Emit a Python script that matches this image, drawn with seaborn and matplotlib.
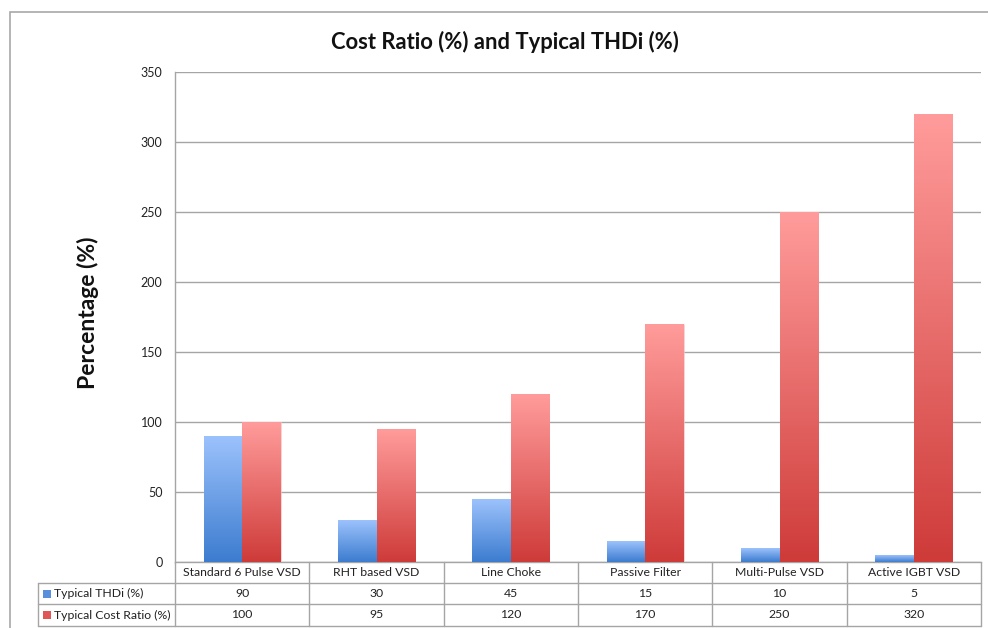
import numpy as np
import pandas as pd
import matplotlib
matplotlib.use("Agg")
import matplotlib.pyplot as plt
from matplotlib.patches import Rectangle
from matplotlib.colors import LinearSegmentedColormap, to_hex
import seaborn as sns

# ---- data ----
categories = ["Standard 6 Pulse VSD", "RHT based VSD", "Line Choke",
              "Passive Filter", "Multi-Pulse VSD", "Active IGBT VSD"]
series_names = ["Typical THDi (%)", "Typical Cost Ratio (%)"]
thdi = [90, 30, 45, 15, 10, 5]
cost_ratio = [100, 95, 120, 170, 250, 320]
y_ticks = [0, 50, 100, 150, 200, 250, 300, 350]

df = pd.DataFrame({
    "Category": categories * 2,
    "Series": [series_names[0]] * len(categories) + [series_names[1]] * len(categories),
    "Value": thdi + cost_ratio,
})

# ---- style ----
sns.set_theme(style="white")
plt.rcParams["font.family"] = ["Lato", "DejaVu Sans"]

W, H = 988, 628
fig = plt.figure(figsize=(W / 100, H / 100), dpi=100)

def fx(px):
    return px / W

def fy(py):
    return 1 - py / H

left, right, top, bottom = 175, 981, 72, 562
ax = fig.add_axes([fx(left), fy(bottom), fx(right) - fx(left), fy(top) - fy(bottom)])

blue_base, red_base = "#6a9be6", "#e86a6a"
base_cols = {series_names[0]: blue_base, series_names[1]: red_base}
sns.barplot(data=df, x="Category", y="Value", hue="Series", order=categories,
            hue_order=series_names, palette=base_cols, width=0.575,
            saturation=1, legend=False, ax=ax, zorder=3)

# vertical gradient fills clipped to each bar
grads = {
    blue_base: LinearSegmentedColormap.from_list("blue_grad", ["#3C7CCF", "#9CC2FC"]),
    red_base: LinearSegmentedColormap.from_list("red_grad", ["#CE3B39", "#FF9C9B"]),
}
grad_img = np.linspace(0, 1, 256).reshape(-1, 1)
for bar in list(ax.patches):
    key = to_hex(bar.get_facecolor())
    h = bar.get_height()
    if key not in grads or h <= 0:
        continue
    x0, y0, w = bar.get_x(), bar.get_y(), bar.get_width()
    im = ax.imshow(grad_img, cmap=grads[key], origin="lower", aspect="auto",
                   extent=[x0, x0 + w, y0, y0 + h], zorder=3.5, interpolation="bilinear")
    im.set_clip_path(bar)
    bar.set_edgecolor((1, 1, 1, 0.5))
    bar.set_linewidth(0.6)

ax.set_xlim(-0.5, len(categories) - 0.5)
ax.set_ylim(0, 350)
ax.set_yticks(y_ticks)
ax.set_yticklabels([str(t) for t in y_ticks], fontsize=9, color="#222222")
ax.tick_params(axis="y", length=0, pad=9)
ax.set_xticks([])
ax.set_xlabel("")
ax.set_ylabel("")
ax.yaxis.grid(True, color="#A5A5A5", linewidth=1.0, zorder=0)
ax.set_axisbelow(True)
for s in ["top", "right"]:
    ax.spines[s].set_visible(False)
for s in ["left", "bottom"]:
    ax.spines[s].set_color("#A5A5A5")
    ax.spines[s].set_linewidth(1.0)

# title and axis label
fig.text(fx(504.5), fy(42), "Cost Ratio (%) and Typical THDi (%)", ha="center", va="center",
         fontsize=15.8, fontweight="bold", color="#111111")
fig.text(fx(88), fy(313), "Percentage (%)", ha="center", va="center", rotation=90,
         fontsize=16.5, fontweight="bold", color="#111111")

# outer chart frame
fig.patches.append(Rectangle((fx(10), -0.2), 1.2, fy(12) + 0.2, transform=fig.transFigure,
                             fill=False, edgecolor="#A8A8A8", linewidth=1.2))

# ---- data table under the axis ----
line_kw = dict(color="#A5A5A5", linewidth=1.0, transform=fig.transFigure, clip_on=False)
row_y = [562, 583, 604, 626]
table_left = 38
col_w = (right - left) / len(categories)

def line(x0, y0, x1, y1):
    fig.add_artist(plt.Line2D([fx(x0), fx(x1)], [fy(y0), fy(y1)], **line_kw))

for yy in row_y[1:]:
    line(table_left, yy, right, yy)
line(table_left, row_y[1], table_left, row_y[3])
for i in range(len(categories) + 1):
    xx = left + i * col_w
    line(xx, row_y[0], xx, row_y[3])

txt_kw = dict(fontsize=8.8, color="#222222", va="center", ha="center")
for i, cat in enumerate(categories):
    cx = left + (i + 0.5) * col_w
    fig.text(fx(cx), fy((row_y[0] + row_y[1]) / 2), cat, **txt_kw)
    fig.text(fx(cx), fy((row_y[1] + row_y[2]) / 2), str(thdi[i]), **txt_kw)
    fig.text(fx(cx), fy((row_y[2] + row_y[3]) / 2), str(cost_ratio[i]), **txt_kw)

key_cols = ["#5A8FDD", "#E05555"]
for r, (name, kc) in enumerate(zip(series_names, key_cols)):
    cy = (row_y[r + 1] + row_y[r + 2]) / 2
    fig.patches.append(Rectangle((fx(43), fy(cy + 4)), fx(8), 8 / H,
                                 transform=fig.transFigure, facecolor=kc, edgecolor="none"))
    fig.text(fx(54), fy(cy), name, fontsize=8.8, color="#222222", va="center", ha="left")

fig.savefig("out.png", dpi=100, facecolor="white")
